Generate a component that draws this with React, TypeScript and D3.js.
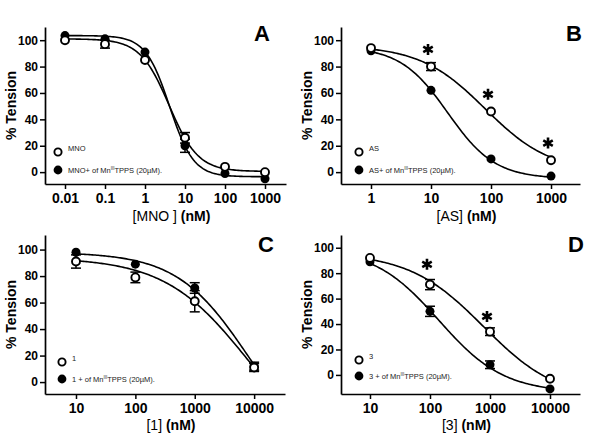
import { useEffect, useRef } from 'react'
import * as d3 from 'd3'

const FONT = 'Arial, "Liberation Sans", Helvetica, sans-serif'
const INK = '#000'

// ── A: MNO ─────────────────────────────────────────────
const mnoDose = [0.01, 0.1, 1, 10, 100, 1000]
const mnoOpen = [100, 97, 85, 26, 4, 0]
const mnoOpenErr = [0, 3, 0, 4, 0, 0]
const mnoFilled = [103.5, 101, 91, 20, -1, -5]
const mnoFilledErr = [0, 0, 0, 5, 0, 0]
// fit: top, bottom, EC50, hill
const mnoOpenFit = [101, 0.5, 4, 1.2]
const mnoFilledFit = [103.5, -3.5, 4.1, 1.45]

// ── B: AS ──────────────────────────────────────────────
const asDose = [1, 10, 100, 1000]
const asOpen = [94, 80, 46, 9]
const asOpenErr = [0, 3, 0, 0]
const asFilled = [92, 62, 10, -3]
const asFilledErr = [0, 0, 0, 0]
const asOpenFit = [96, 0, 80, 0.8]
const asFilledFit = [95, -5, 19, 1.1]
const asStarDose = [10, 100, 1000]
const asStarY = [93, 59, 22]

// ── C: compound 1 ─────────────────────────────────────
const oneDose = [10, 100, 1000, 10000]
const oneOpen = [91, 79, 61, 11]
const oneOpenErr = [5, 4, 8, 3]
const oneFilled = [98, 89, 71, 12]
const oneFilledErr = [0, 0, 4, 3]
const oneOpenFit = [94, -60, 7770, 0.62]
const oneFilledFit = [98, -60, 8100, 0.72]

// ── D: compound 3 ─────────────────────────────────────
const threeDose = [10, 100, 1000, 10000]
const threeOpen = [92, 71, 34, -3]
const threeOpenErr = [0, 4, 3, 0]
const threeFilled = [89, 50, 8, -11]
const threeFilledErr = [0, 4, 3, 0]
const threeOpenFit = [96, -20, 780, 0.7]
const threeFilledFit = [100, -14, 140, 0.8]
const threeStarDose = [100, 1000]
const threeStarY = [87, 46]

const yTicks = [0, 20, 40, 60, 80, 100]

interface PanelDef {
  letter: string
  xLabel: string
  openName: string
  filledName: string
  dose: number[]
  open: number[]
  openErr: number[]
  filled: number[]
  filledErr: number[]
  openFit: number[]
  filledFit: number[]
  starDose: number[]
  starY: number[]
  xTicks: number[]
  // layout
  left: number
  right: number
  top: number
  bottom: number
  xDomain: [number, number]
  yDomain: [number, number]
  legend: [number, number, number]
  labelY: number
  letterXY: [number, number]
}

const panels: PanelDef[] = [
  {
    letter: 'A', xLabel: '[MNO ]', openName: 'MNO', filledName: 'MNO+',
    dose: mnoDose, open: mnoOpen, openErr: mnoOpenErr, filled: mnoFilled, filledErr: mnoFilledErr,
    openFit: mnoOpenFit, filledFit: mnoFilledFit, starDose: [], starY: [],
    xTicks: mnoDose,
    left: 45, right: 286, top: 27, bottom: 184,
    xDomain: [10 ** -2.5, 10 ** 3.525], yDomain: [-9, 110],
    legend: [58, 152, 170], labelY: 221, letterXY: [262, 41],
  },
  {
    letter: 'B', xLabel: '[AS]', openName: 'AS', filledName: 'AS+',
    dose: asDose, open: asOpen, openErr: asOpenErr, filled: asFilled, filledErr: asFilledErr,
    openFit: asOpenFit, filledFit: asFilledFit, starDose: asStarDose, starY: asStarY,
    xTicks: asDose,
    left: 341, right: 580, top: 27, bottom: 184,
    xDomain: [10 ** -0.5, 10 ** 3.483], yDomain: [-9, 110],
    legend: [359, 152, 170], labelY: 221, letterXY: [574, 41],
  },
  {
    letter: 'C', xLabel: '[1]', openName: '1', filledName: '1 +',
    dose: oneDose, open: oneOpen, openErr: oneOpenErr, filled: oneFilled, filledErr: oneFilledErr,
    openFit: oneOpenFit, filledFit: oneFilledFit, starDose: [], starY: [],
    xTicks: oneDose,
    left: 45, right: 285, top: 235, bottom: 394,
    xDomain: [10 ** 0.478, 10 ** 4.52], yDomain: [-9, 111],
    legend: [62, 362, 379], labelY: 430, letterXY: [266, 252],
  },
  {
    letter: 'D', xLabel: '[3]', openName: '3', filledName: '3 +',
    dose: threeDose, open: threeOpen, openErr: threeOpenErr, filled: threeFilled, filledErr: threeFilledErr,
    openFit: threeOpenFit, filledFit: threeFilledFit, starDose: threeStarDose, starY: threeStarY,
    xTicks: threeDose,
    left: 341, right: 580, top: 235, bottom: 394,
    xDomain: [10 ** 0.517, 10 ** 4.5], yDomain: [-15, 110],
    legend: [359, 360, 376], labelY: 430, letterXY: [576, 252],
  },
]

function hill(fit: number[], x: number) {
  const [top, bottom, ec50, h] = fit
  return bottom + (top - bottom) / (1 + Math.pow(x / ec50, h))
}

function Panel({ p }: { p: PanelDef }) {
  const xAxisRef = useRef<SVGGElement>(null)
  const yAxisRef = useRef<SVGGElement>(null)

  const x = d3.scaleLog().domain(p.xDomain).range([p.left, p.right])
  const y = d3.scaleLinear().domain(p.yDomain).range([p.bottom, p.top])

  useEffect(() => {
    const xa = d3.axisBottom(x).tickValues(p.xTicks).tickFormat((d) => String(d)).tickSize(5).tickSizeOuter(0).tickPadding(4)
    const ya = d3.axisLeft(y).tickValues(yTicks).tickFormat((d) => String(d)).tickSize(5).tickSizeOuter(0).tickPadding(2)
    const style = (g: d3.Selection<SVGGElement, unknown, null, undefined>, size: number) => {
      g.select('.domain').attr('stroke', INK).attr('stroke-width', 1.7)
      g.selectAll('.tick line').attr('stroke', INK).attr('stroke-width', 1.5)
      g.selectAll('.tick text').attr('fill', INK).attr('font-size', size).attr('font-weight', 'bold').attr('font-family', FONT)
    }
    d3.select(xAxisRef.current!).call(xa).call((g) => style(g, 14))
    d3.select(yAxisRef.current!).call(ya).call((g) => style(g, 12))
  })

  const [lo, hi] = d3.extent(p.dose) as [number, number]
  const samples = d3.range(0, 121).map((i) => lo * Math.pow(hi / lo, i / 120))
  const line = d3.line<number>().x((d) => x(d))
  const openPath = line.y((d) => y(hill(p.openFit, d)))(samples) ?? ''
  const filledPath = line.y((d) => y(hill(p.filledFit, d)))(samples) ?? ''

  const star = d3.symbol(d3.symbolAsterisk, 85)()

  const errBars = (vals: number[], errs: number[]) =>
    p.dose.map((d, i) =>
      errs[i] > 0 ? (
        <g key={i} stroke={INK} strokeWidth={1.5}>
          <line x1={x(d)} x2={x(d)} y1={y(vals[i] - errs[i])} y2={y(vals[i] + errs[i])} />
          <line x1={x(d) - 5} x2={x(d) + 5} y1={y(vals[i] + errs[i])} y2={y(vals[i] + errs[i])} />
          <line x1={x(d) - 5} x2={x(d) + 5} y1={y(vals[i] - errs[i])} y2={y(vals[i] - errs[i])} />
        </g>
      ) : null
    )

  const midX = (p.left + p.right) / 2
  const [lx, ly1, ly2] = p.legend

  return (
    <g>
      <path d={openPath} fill="none" stroke={INK} strokeWidth={1.6} />
      <path d={filledPath} fill="none" stroke={INK} strokeWidth={1.6} />
      {errBars(p.open, p.openErr)}
      {errBars(p.filled, p.filledErr)}
      {p.dose.map((d, i) => (
        <circle key={'f' + i} cx={x(d)} cy={y(p.filled[i])} r={4.5} fill={INK} />
      ))}
      {p.dose.map((d, i) => (
        <circle key={'o' + i} cx={x(d)} cy={y(p.open[i])} r={4} fill="#fff" stroke={INK} strokeWidth={1.9} />
      ))}
      {p.starDose.map((d, i) => (
        <path key={'s' + i} d={star ?? ''} transform={`translate(${x(d) - 3},${y(p.starY[i])})`} fill="none" stroke={INK} strokeWidth={2.6} />
      ))}
      <g ref={xAxisRef} transform={`translate(0,${p.bottom})`} />
      <g ref={yAxisRef} transform={`translate(${p.left},0)`} />

      {/* legend */}
      <circle cx={lx} cy={ly1} r={3.6} fill="#fff" stroke={INK} strokeWidth={1.9} />
      <circle cx={lx} cy={ly2} r={4.4} fill={INK} />
      <g fontFamily={FONT} fontSize={7.5} fill="#222">
        <text x={lx + 10} y={ly1 - 1}>{p.openName}</text>
        <text x={lx + 10} y={ly2 + 2.5}>
          {p.filledName} of Mn
          <tspan fontSize={4.5} dy={-3}>III</tspan>
          <tspan dy={3}>TPPS (20µM).</tspan>
        </text>
      </g>

      <text x={p.letterXY[0]} y={p.letterXY[1]} textAnchor="middle" fontFamily={FONT} fontWeight="bold" fontSize={22} fill={INK}>
        {p.letter}
      </text>
      <text x={midX + 6} y={p.labelY} textAnchor="middle" fontFamily={FONT} fontSize={14} fontWeight="bold" fill={INK}>
        <tspan fontWeight="normal">{p.xLabel}</tspan>
        <tspan> (nM)</tspan>
      </text>
      <text
        transform={`translate(${p.left - 29},${(p.top + p.bottom) / 2}) rotate(-90)`}
        textAnchor="middle"
        fontFamily={FONT}
        fontWeight="bold"
        fontSize={14}
        fill={INK}
      >
        % Tension
      </text>
    </g>
  )
}

export default function App() {
  return (
    <svg width={600} height={439} style={{ position: 'absolute', left: 0, top: 0, background: '#fff' }}>
      <rect width={600} height={439} fill="#fff" />
      {panels.map((p) => (
        <Panel key={p.letter} p={p} />
      ))}
    </svg>
  )
}
